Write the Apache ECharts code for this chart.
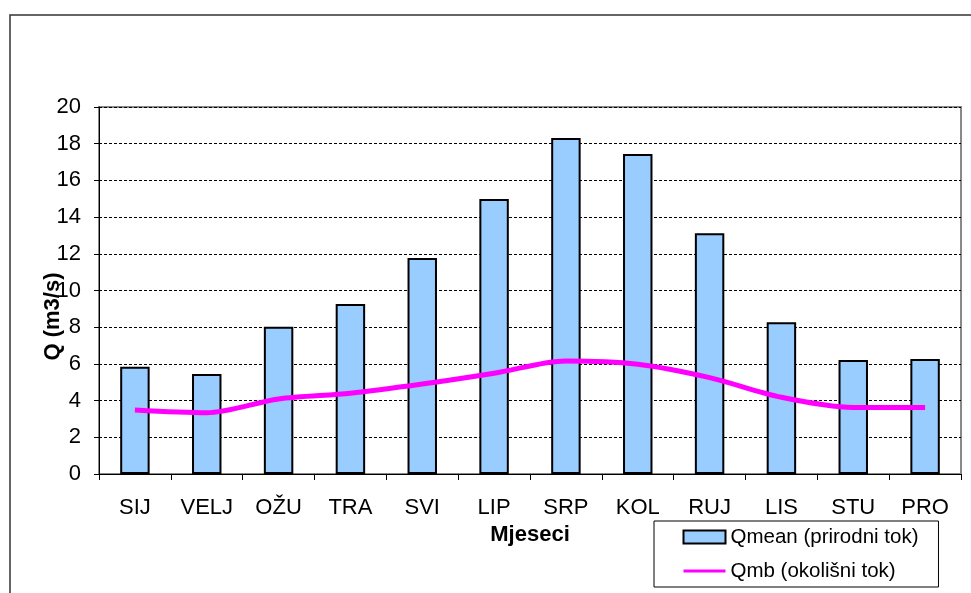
<!DOCTYPE html>
<html>
<head>
<meta charset="utf-8">
<script src="https://cdn.jsdelivr.net/npm/echarts@6/dist/echarts.min.js"></script>
<style>
html,body{margin:0;padding:0;background:#fff;}
#main{width:971px;height:593px;}
</style>
</head>
<body>
<div id="main"></div>
<script>
const categories = ['SIJ','VELJ','OŽU','TRA','SVI','LIP','SRP','KOL','RUJ','LIS','STU','PRO'];
const qmean = [5.85, 5.45, 8.03, 9.27, 11.77, 14.99, 18.31, 17.44, 13.12, 8.27, 6.21, 6.27];
const qmb = [3.49, 3.34, 4.09, 4.40, 4.90, 5.49, 6.16, 5.98, 5.25, 4.18, 3.63, 3.63];
const seriesNames = ['Qmean (prirodni tok)', 'Qmb (okolišni tok)'];
const yTicks = {min: 0, max: 20, interval: 2};

const FONT = '"Liberation Sans", Arial, sans-serif';
const chart = echarts.init(document.getElementById('main'), null, {renderer: 'canvas'});
chart.setOption({
  animation: false,
  backgroundColor: '#fff',
  textStyle: {fontFamily: FONT, color: '#000'},
  graphic: [{
    type: 'rect', z: -1,
    shape: {x: 10, y: 15, width: 975, height: 600},
    style: {fill: 'none', stroke: '#333', lineWidth: 1.5}
  }],
  grid: {left: 99, right: 10, top: 107, bottom: 119, show: true, borderColor: '#888', borderWidth: 2, backgroundColor: 'transparent'},
  legend: {
    left: 654, top: 521, orient: 'vertical',
    padding: [4, 20, 4, 28], itemGap: 10,
    itemWidth: 42, itemHeight: 13,
    borderColor: '#000', borderWidth: 1, backgroundColor: '#fff',
    textStyle: {fontFamily: FONT, fontSize: 20.5, color: '#000', lineHeight: 24},
    data: [
      {name: seriesNames[0], icon: 'rect', itemStyle: {color: '#99CCFF', borderColor: '#000', borderWidth: 2}},
      {name: seriesNames[1], itemStyle: {opacity: 0}, lineStyle: {color: '#FF00FF', width: 3}}
    ]
  },
  xAxis: {
    type: 'category', data: categories, boundaryGap: true,
    axisLine: {show: true, lineStyle: {color: '#000', width: 1}},
    axisTick: {show: true, length: 6, inside: false, lineStyle: {color: '#000'}},
    axisLabel: {fontSize: 22, color: '#000', margin: 23, fontFamily: FONT},
    name: 'Mjeseci', nameLocation: 'middle', nameGap: 48,
    nameTextStyle: {fontSize: 22, fontWeight: 'bold', color: '#000', fontFamily: FONT},
    splitLine: {show: false}
  },
  yAxis: {
    type: 'value', min: yTicks.min, max: yTicks.max, interval: yTicks.interval,
    axisLine: {show: true, lineStyle: {color: '#000', width: 1}},
    axisTick: {show: true, length: 5, inside: false, lineStyle: {color: '#000'}},
    axisLabel: {fontSize: 22, color: '#000', margin: 18, fontFamily: FONT},
    splitLine: {show: true, lineStyle: {color: '#000', type: [3, 2], width: 1}},
    name: 'Q (m3/s)', nameLocation: 'middle', nameGap: 35, nameRotate: 90, nameMoveOverlap: false,
    nameTextStyle: {fontSize: 22, fontWeight: 'bold', color: '#000', fontFamily: FONT, padding: [0, 52, 0, 0]}
  },
  series: [
    {
      name: seriesNames[0], type: 'bar', data: qmean, barWidth: '41%',
      itemStyle: {color: '#99CCFF', borderColor: '#000', borderWidth: 2}
    },
    {
      name: seriesNames[1], type: 'line', data: qmb, smooth: 0.3,
      symbol: 'none', lineStyle: {color: '#FF00FF', width: 5}, itemStyle: {color: '#FF00FF'}
    }
  ]
});
</script>
</body>
</html>
